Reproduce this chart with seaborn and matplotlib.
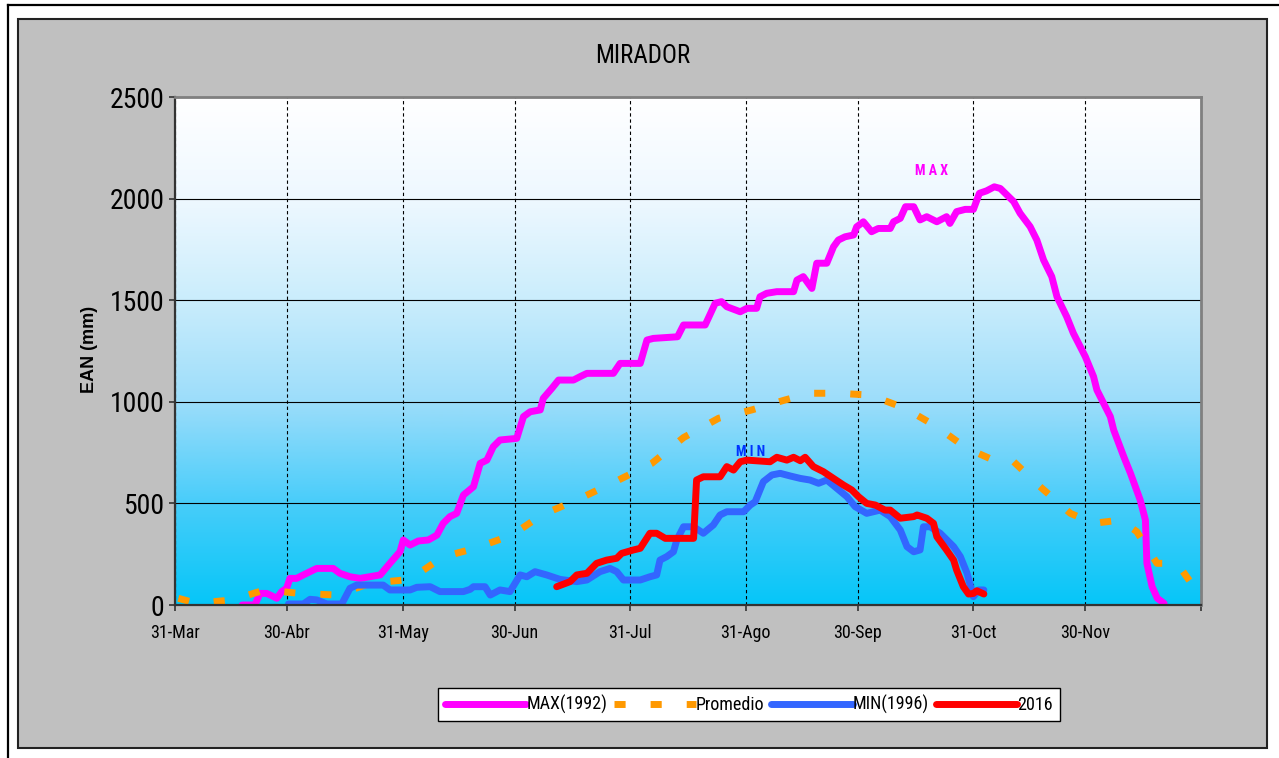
import numpy as np
import pandas as pd
import matplotlib
matplotlib.use("Agg")
import matplotlib.pyplot as plt
from matplotlib.colors import LinearSegmentedColormap
from matplotlib.lines import Line2D
from matplotlib.patches import Rectangle
from matplotlib import font_manager
import seaborn as sns

# ---------------------------------------------------------------------------
# Snow water equivalent (EAN, mm) at MIRADOR, days counted from 31 March
# ---------------------------------------------------------------------------
season_start = "2016-03-31"

tick_days = [0, 30, 61, 91, 122, 153, 183, 214, 244, 275]
tick_labels = ["31-Mar", "30-Abr", "31-May", "30-Jun", "31-Jul",
               "31-Ago", "30-Sep", "31-Oct", "30-Nov", ""]
y_ticks = [0, 500, 1000, 1500, 2000, 2500]

# MAX (1992)
max_days = [
    18.0, 21.4, 22.8, 24.6, 25.5, 27.3, 28.6, 29.9, 30.8, 32.6,
    34.4, 38.0, 42.4, 44.2, 46.9, 49.6, 55.0, 57.6, 60.3, 61.2,
    63.0, 65.2, 67.9, 70.2, 71.9, 73.7, 75.5, 77.3, 80.0, 81.8,
    83.6, 85.3, 87.1, 91.6, 93.4, 95.2, 97.9, 98.7, 101.0, 102.8,
    106.8, 108.6, 110.4, 117.5, 119.3, 124.7, 126.5, 128.2, 134.7, 136.3,
    142.1, 144.8, 146.5, 147.9, 151.5, 153.3, 155.9, 156.8, 158.6, 161.3,
    165.8, 166.7, 168.4, 170.7, 172.0, 174.7, 176.5, 177.8, 179.6, 181.9,
    182.7, 184.5, 186.7, 188.5, 191.7, 192.6, 194.4, 195.8, 198.0, 199.7,
    201.5, 204.2, 206.8, 207.7, 209.5, 211.8, 214.0, 215.6, 217.5, 219.6,
    221.2, 224.8, 226.5, 229.2, 231.0, 232.8, 235.0, 236.4, 239.0, 240.8,
    244.0, 246.2, 247.1, 250.7, 251.6, 254.3, 256.1, 258.7, 260.1, 260.5,
    261.9, 263.3, 265.1,
]
max_vals = [
    0, 0, 57, 57, 49, 33, 66, 82, 131, 131,
    148, 180, 180, 156, 139, 131, 148, 205, 262, 320,
    295, 315, 320, 344, 402, 435, 451, 541, 582, 697,
    713, 779, 812, 820, 927, 951, 960, 1017, 1066, 1107,
    1107, 1124, 1140, 1140, 1189, 1189, 1304, 1312, 1320, 1378,
    1378, 1485, 1493, 1468, 1443, 1460, 1460, 1517, 1534, 1542,
    1542, 1599, 1616, 1558, 1682, 1682, 1763, 1796, 1812, 1821,
    1861, 1886, 1837, 1853, 1853, 1886, 1903, 1960, 1960, 1895,
    1911, 1886, 1911, 1878, 1936, 1947, 1947, 2026, 2038, 2058,
    2050, 1985, 1928, 1862, 1796, 1698, 1616, 1517, 1419, 1337,
    1222, 1124, 1058, 927, 861, 730, 648, 517, 418, 205,
    90, 33, 8,
]

# Promedio (long-term mean)
avg_days = [
    0.9, 5.8, 15.2, 24.1, 33.5, 43.3, 52.3, 63.0, 71.7, 80.4,
    90.3, 98.3, 107.7, 118.0, 127.8, 136.3, 145.7, 154.6, 163.5, 170.2,
    177.8, 186.3, 195.7, 204.2, 212.2, 219.4, 224.8, 231.4, 240.0, 246.2,
    253.4, 257.8, 263.2, 268.6, 272.1,
]
avg_vals = [
    33, 8, 25, 74, 57, 49, 107, 126, 236, 279,
    344, 443, 517, 607, 697, 824, 919, 960, 1009, 1042,
    1042, 1033, 968, 877, 771, 713, 705, 590, 451, 402,
    418, 361, 205, 205, 115,
]

# MIN (1996)
min_days = [
    30.4, 34.4, 36.2, 38.0, 40.7, 44.7, 46.9, 48.7, 55.8, 57.6,
    63.0, 64.8, 68.4, 71.0, 77.3, 79.1, 80.0, 83.1, 84.5, 87.1,
    89.8, 92.5, 94.3, 96.5, 99.6, 103.2, 107.7, 110.4, 113.9, 116.6,
    118.4, 120.2, 124.7, 127.3, 129.1, 130.0, 131.8, 133.6, 134.5, 136.3,
    139.0, 141.6, 144.3, 146.1, 147.9, 152.4, 154.2, 155.5, 157.7, 160.0,
    162.2, 164.9, 167.6, 170.2, 172.5, 174.7, 177.4, 180.1, 182.3, 185.4,
    189.0, 191.7, 194.4, 196.2, 198.0, 199.7, 200.6, 202.4, 205.1, 208.7,
    210.5, 212.3, 214.0, 215.4, 216.8,
]
min_vals = [
    5, 5, 28, 25, 5, 5, 82, 98, 98, 74,
    74, 87, 90, 66, 66, 77, 90, 90, 49, 74,
    66, 148, 139, 164, 148, 126, 115, 123, 164, 180,
    164, 123, 123, 139, 148, 221, 238, 262, 320, 385,
    385, 353, 394, 443, 459, 459, 492, 508, 607, 640,
    648, 635, 623, 615, 599, 615, 574, 533, 484, 451,
    467, 435, 369, 287, 262, 271, 385, 385, 353, 287,
    238, 156, 41, 74, 74,
]

# 2016
y2016_days = [
    102.3, 105.9, 107.7, 110.4, 113.0, 115.7, 118.4, 119.7, 122.9, 124.7,
    127.3, 129.1, 131.4, 139.0, 139.8, 141.6, 146.1, 147.9, 149.7, 151.5,
    153.3, 159.5, 161.3, 164.0, 165.8, 167.6, 168.9, 171.1, 173.8, 176.5,
    179.2, 181.4, 183.2, 185.4, 187.7, 190.3, 191.7, 194.4, 198.0, 198.9,
    201.5, 203.3, 204.2, 206.8, 208.7, 209.5, 211.3, 212.7, 214.0, 214.9,
    216.8,
]
y2016_vals = [
    90, 115, 148, 156, 205, 221, 230, 254, 271, 279,
    353, 353, 328, 328, 615, 631, 631, 681, 664, 705,
    713, 705, 727, 713, 727, 710, 727, 681, 656, 623,
    590, 566, 533, 500, 492, 467, 467, 427, 435, 443,
    427, 402, 336, 271, 221, 172, 90, 54, 57, 70,
    54,
]

# ---------------------------------------------------------------------------
available = {f.name for f in font_manager.fontManager.ttflist}
narrow_candidates = ["Liberation Sans Narrow", "Arial Narrow", "Roboto Condensed",
                     "Archivo Narrow", "PT Sans Narrow", "Liberation Sans"]
narrow = next(n for n in narrow_candidates if n in available or n == "Liberation Sans")
plt.rcParams["font.family"] = [narrow, "DejaVu Sans"]

start = pd.Timestamp(season_start)


def to_dates(days):
    return start + pd.to_timedelta(np.asarray(days, dtype=float), unit="D")


W, H = 1279, 758


def fx(px):
    return px / W


def fy(py):
    return 1 - py / H


fig = plt.figure(figsize=(W / 100, H / 100), dpi=100, facecolor="white")

# outer frame and grey chart panel
fig.add_artist(Line2D([fx(8), fx(8)], [0, fy(5)], color="black", lw=1.6,
                      transform=fig.transFigure))
fig.add_artist(Line2D([fx(8), 1], [fy(5), fy(5)], color="black", lw=1.6,
                      transform=fig.transFigure))
fig.add_artist(Rectangle((fx(18), fy(748)), fx(1267) - fx(18), fy(19) - fy(748),
                         facecolor="#C0C0C0", edgecolor="#222222", lw=1.5,
                         transform=fig.transFigure, zorder=0))

rect = [fx(175), fy(605), fx(1201) - fx(175), fy(97) - fy(605)]

# gradient plot background
bg = fig.add_axes(rect, zorder=1)
grad = LinearSegmentedColormap.from_list(
    "sky", [(0.0, "#06C6F8"), (0.2, "#48CDFA"), (0.4, "#9CDDFA"),
            (0.6, "#CAEDFC"), (0.8, "#EEF8FF"), (1.0, "#FFFFFF")])
bg.imshow(np.linspace(0, 1, 256).reshape(-1, 1), origin="lower", aspect="auto",
          extent=[0, 1, 0, 1], cmap=grad, interpolation="bilinear")
bg.set_axis_off()

ax = fig.add_axes(rect, zorder=2)
ax.set_facecolor("none")

solid = dict(solid_capstyle="round", solid_joinstyle="round")
sns.lineplot(x=to_dates(max_days), y=max_vals, ax=ax, color="#FF00FF", lw=5,
             label="MAX(1992)", sort=False, estimator=None, **solid)
sns.lineplot(x=to_dates(avg_days), y=avg_vals, ax=ax, color="#FF9900", lw=5,
             label="Promedio", sort=False, estimator=None,
             linestyle=(0, (1.6, 3.6)), dash_capstyle="butt")
sns.lineplot(x=to_dates(min_days), y=min_vals, ax=ax, color="#3366FF", lw=5,
             label="MIN(1996)", sort=False, estimator=None, **solid)
sns.lineplot(x=to_dates(y2016_days), y=y2016_vals, ax=ax, color="#FF0000", lw=5,
             label="2016", sort=False, estimator=None, **solid)

ax.set_xlim(to_dates([0])[0], to_dates([275])[0])
ax.set_ylim(0, 2500)
ax.set_xticks(to_dates(tick_days))
ax.set_xticklabels(tick_labels)
ax.set_yticks(y_ticks)
ax.set_yticklabels([str(v) for v in y_ticks])

ax.set_axisbelow(True)
ax.yaxis.grid(True, color="black", lw=0.8)
ax.xaxis.grid(True, color="black", lw=0.8, linestyle=(0, (3, 2.5)))

ax.tick_params(axis="y", direction="out", length=4.5, width=1.2, color="#333333",
               labelsize=20, pad=3)
ax.tick_params(axis="x", direction="out", length=4.5, width=1.2, color="#333333",
               labelsize=13, pad=9)

for side in ("left", "bottom"):
    ax.spines[side].set_color("#333333")
    ax.spines[side].set_linewidth(1.6)
for side in ("top", "right"):
    ax.spines[side].set_color("#808080")
    ax.spines[side].set_linewidth(2)

ax.set_xlabel("")
ax.set_ylabel("EAN (mm)", fontsize=13, fontweight="bold",
              family=["Liberation Sans", "DejaVu Sans"])
ax.yaxis.set_label_coords(-0.075, 0.504)

ax.text(to_dates([202.7])[0], 2136, "M A X", color="#FF00FF", fontsize=10,
        fontweight="bold", ha="center", va="center")
ax.text(to_dates([154.4])[0], 753, "M I N", color="#0033FF", fontsize=10,
        fontweight="bold", ha="center", va="center")

fig.text(fx(643), fy(56), "MIRADOR", ha="center", va="center", fontsize=18)

handles, labels = ax.get_legend_handles_labels()
ax.legend(handles, labels, loc="center", bbox_to_anchor=(fx(749), fy(704.5)),
          bbox_transform=fig.transFigure, ncol=4, frameon=True, fancybox=False,
          edgecolor="black", framealpha=1, handlelength=4.5, handletextpad=0.0,
          columnspacing=0.4, borderpad=0.4, fontsize=13)
ax.get_legend().get_frame().set_linewidth(1.0)

fig.savefig("out.png", dpi=100, facecolor="white")
